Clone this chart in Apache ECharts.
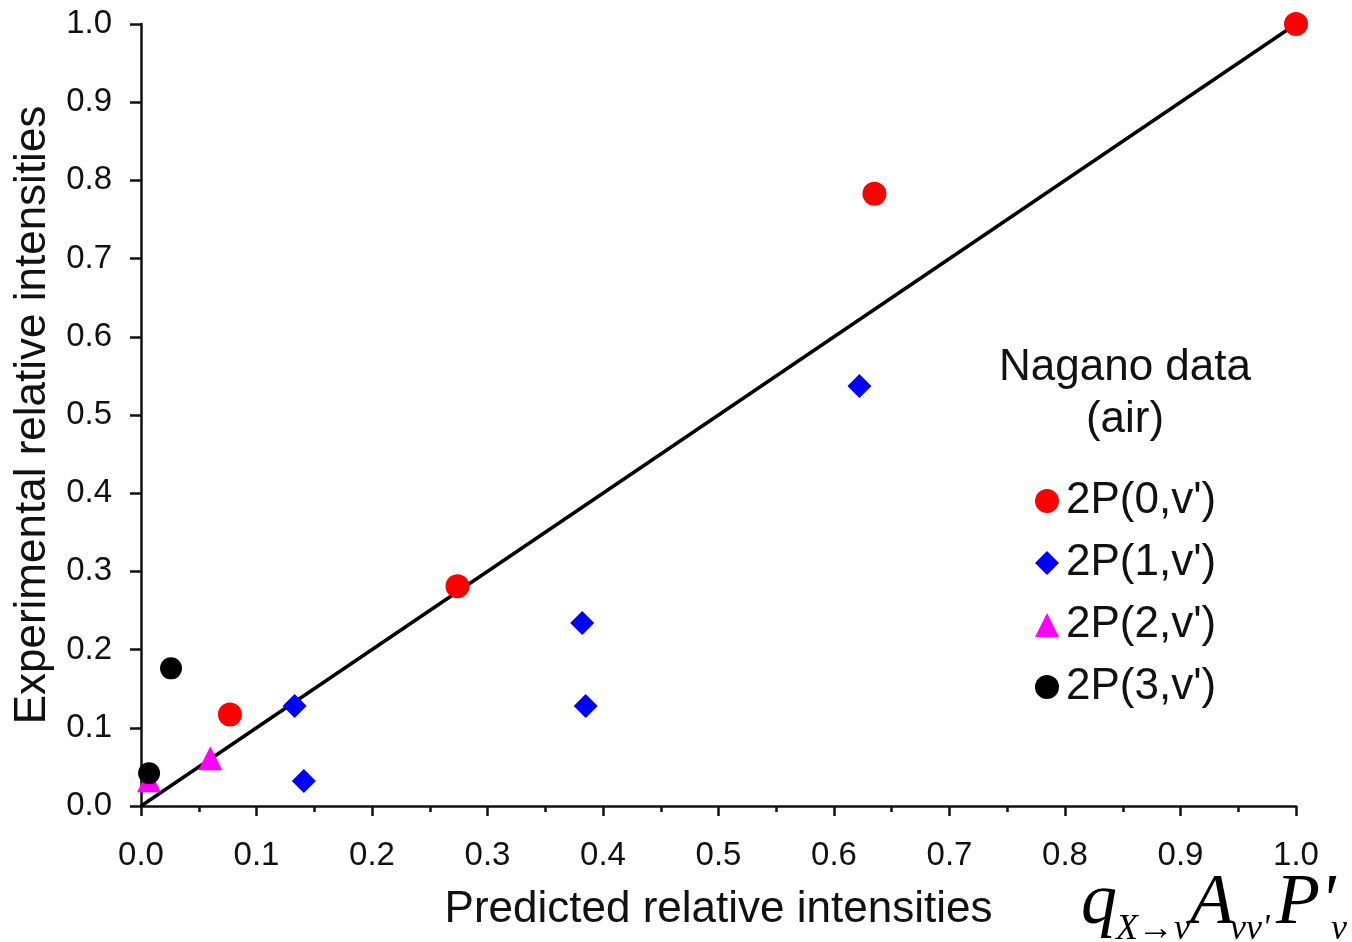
<!DOCTYPE html>
<html>
<head>
<meta charset="utf-8">
<script src="https://cdn.jsdelivr.net/npm/echarts@6/dist/echarts.min.js"></script>
<style>
html,body{margin:0;padding:0;background:#fff;}
#chart{width:1352px;height:942px;}
</style>
</head>
<body>
<div id="chart"></div>
<script>
// ---- data ----
const seriesNames = ["2P(0,v')", "2P(1,v')", "2P(2,v')", "2P(3,v')"];
const s0 = [[1.0, 1.0], [0.635, 0.783], [0.274, 0.281], [0.077, 0.117]];
const s1 = [[0.622, 0.537], [0.382, 0.234], [0.385, 0.128], [0.133, 0.128], [0.141, 0.032]];
const s2 = [[0.060, 0.061], [0.007, 0.033]];
const s3 = [[0.026, 0.176], [0.007, 0.042]];
const diagonal = [[0, 0], [1, 1]];
const xTitle = "Predicted relative intensities";
const yTitle = "Experimental relative intensities";
const legendTitle = "Nagano data\n(air)";

const chart = echarts.init(document.getElementById('chart'));
const FONT = '"Liberation Sans", Arial, Helvetica, sans-serif';
const SERIF = '"Liberation Serif", "Times New Roman", serif';
const axisColor = '#111';

function fmt(v){ return v.toFixed(1); }

const option = {
  backgroundColor: '#fff',
  animation: false,
  textStyle: { fontFamily: FONT },
  grid: { left: 141, right: 56, top: 24, bottom: 136, containLabel: false },
  xAxis: {
    type: 'value', min: 0, max: 1, interval: 0.1,
    name: xTitle, nameLocation: 'middle', nameGap: 82,
    nameTextStyle: { fontSize: 44, color: '#111', fontFamily: FONT },
    axisLine: { show: true, onZero: false, lineStyle: { color: axisColor, width: 2.5 } },
    axisTick: { show: true, length: 10, lineStyle: { color: axisColor, width: 2.5 } },
    minorTick: { show: true, splitNumber: 2, length: 6, lineStyle: { color: axisColor, width: 2.5 } },
    splitLine: { show: false },
    axisLabel: { fontSize: 33, color: '#111', margin: 33, formatter: fmt, fontFamily: FONT }
  },
  yAxis: {
    type: 'value', min: 0, max: 1, interval: 0.1,
    name: yTitle, nameLocation: 'middle', nameGap: 85, nameRotate: 90,
    nameTextStyle: { fontSize: 44, color: '#111', fontFamily: FONT },
    axisLine: { show: true, onZero: false, lineStyle: { color: axisColor, width: 2.5 } },
    axisTick: { show: true, length: 11, lineStyle: { color: axisColor, width: 2.5 } },
    splitLine: { show: false },
    axisLabel: { fontSize: 33, color: '#111', margin: 29, formatter: fmt, fontFamily: FONT }
  },
  legend: {
    data: seriesNames,
    orient: 'vertical',
    left: 1030, top: 471,
    itemWidth: 24, itemHeight: 24, itemGap: 12,
    textStyle: { fontSize: 44, color: '#111', lineHeight: 50, fontFamily: FONT, padding: [0, 0, 0, 2] },
    selectedMode: false
  },
  graphic: [
    { type: 'text', x: 1125, y: 394, style: { text: legendTitle, font: '44px ' + FONT, fill: '#111', textAlign: 'center', textVerticalAlign: 'middle', lineHeight: 52 } },
    { type: 'text', x: 1081, y: 904, style: { text: 'q', font: 'italic 72px ' + SERIF, fill: '#000', textVerticalAlign: 'middle' } },
    { type: 'text', x: 1116, y: 930, style: { text: 'X\u2192v', font: 'italic 36px ' + SERIF, fill: '#000', textVerticalAlign: 'middle' } },
    { type: 'text', x: 1190, y: 904, style: { text: 'A', font: 'italic 72px ' + SERIF, fill: '#000', textVerticalAlign: 'middle' } },
    { type: 'text', x: 1230, y: 930, style: { text: "vv'", font: 'italic 36px ' + SERIF, fill: '#000', textVerticalAlign: 'middle' } },
    { type: 'text', x: 1276, y: 904, style: { text: "P'", font: 'italic 72px ' + SERIF, fill: '#000', textVerticalAlign: 'middle' } },
    { type: 'text', x: 1331, y: 930, style: { text: 'v', font: 'italic 36px ' + SERIF, fill: '#000', textVerticalAlign: 'middle' } }
  ],
  series: [
    { name: 'diag', type: 'line', data: diagonal, showSymbol: false, symbol: 'none', z: 1,
      lineStyle: { color: '#000', width: 3.5 }, silent: true },
    { name: seriesNames[0], type: 'scatter', data: s0, symbol: 'circle', symbolSize: 24, z: 3,
      itemStyle: { color: '#ff0000', opacity: 1 } },
    { name: seriesNames[1], type: 'scatter', data: s1, symbol: 'diamond', symbolSize: 24, z: 3,
      itemStyle: { color: '#0000ff', opacity: 1 } },
    { name: seriesNames[2], type: 'scatter', data: s2, symbol: 'triangle', symbolSize: 24, z: 3,
      itemStyle: { color: '#ff00ff', opacity: 1 } },
    { name: seriesNames[3], type: 'scatter', data: s3, symbol: 'circle', symbolSize: 22, z: 4,
      itemStyle: { color: '#000000', opacity: 1 } }
  ]
};
chart.setOption(option);
</script>
</body>
</html>
